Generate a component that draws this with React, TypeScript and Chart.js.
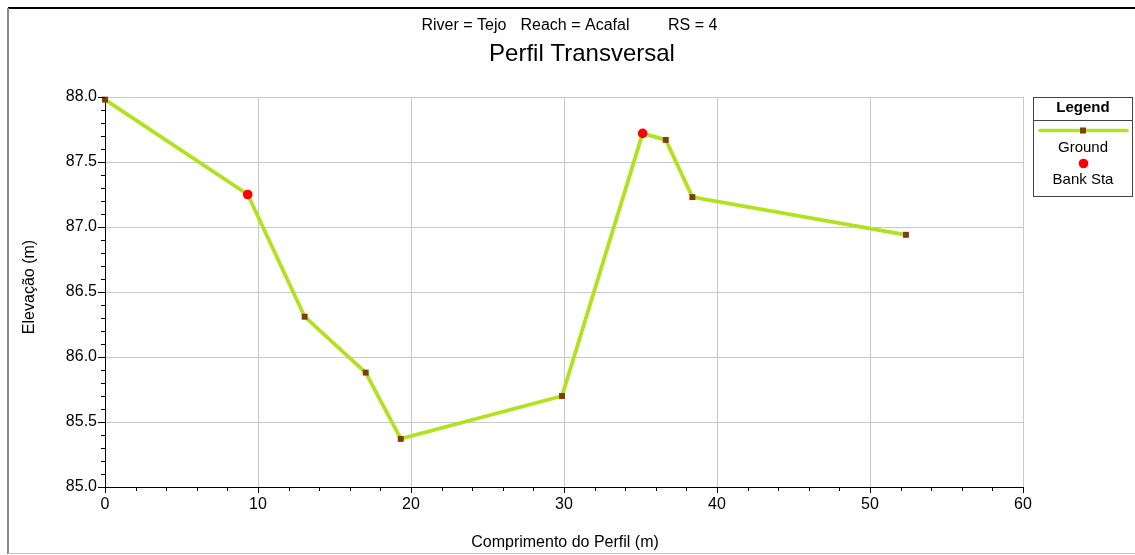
import React, { useEffect, useRef } from "react";
import { Chart, registerables } from "chart.js";

Chart.register(...registerables);

// ---- data ----
const stations = [0, 9.33, 13.05, 17.04, 19.33, 29.87, 35.14, 36.65, 38.39, 52.35];
const elevations = [87.98, 87.25, 86.31, 85.88, 85.37, 85.7, 87.72, 87.67, 87.23, 86.94];
const bankStations = [9.33, 35.14];
const bankElevations = [87.25, 87.72];

const xTicks = [0, 10, 20, 30, 40, 50, 60];
const yTicks = [85.0, 85.5, 86.0, 86.5, 87.0, 87.5, 88.0];

const titleText = "Perfil Transversal";
const subtitleParts = ["River = Tejo", "Reach = Acafal", "RS = 4"];
const xTitle = "Comprimento do Perfil (m)";
const yTitle = "Elevação (m)";
const legendTitle = "Legend";

const FONT = "'Liberation Sans', Arial, sans-serif";
const GREEN = "#b2e11e";
const BROWN = "#7f3f00";
const RED = "#ff0000";

const decorPlugin = {
  id: "decor",
  afterDraw(chart: any) {
    const ctx = chart.ctx as CanvasRenderingContext2D;
    const xs = chart.scales.x;
    const ys = chart.scales.y;
    const ca = chart.chartArea;
    ctx.save();

    // frame
    ctx.fillStyle = "#000";
    ctx.fillRect(8, 7, 1127, 2);
    ctx.fillStyle = "#8a8a8a";
    ctx.fillRect(7, 8, 2, 546);
    ctx.fillStyle = "#c4c4c4";
    ctx.fillRect(8, 553, 1127, 1);

    // custom ticks (major + minor), outward
    ctx.strokeStyle = "#000";
    ctx.lineWidth = 1;
    ctx.beginPath();
    const xmin = xs.min, xmax = xs.max;
    for (let v = xmin; v <= xmax + 1e-9; v += 2) {
      const px = Math.round(xs.getPixelForValue(v)) + 0.5;
      const major = Math.abs(v / 10 - Math.round(v / 10)) < 1e-6;
      ctx.moveTo(px, ca.bottom);
      ctx.lineTo(px, ca.bottom + (major ? 6 : 4));
    }
    const ymin = ys.min, ymax = ys.max;
    for (let i = 0; i <= Math.round((ymax - ymin) / 0.1); i++) {
      const v = ymin + i * 0.1;
      const py = Math.round(ys.getPixelForValue(v)) + 0.5;
      const major = i % 5 === 0;
      ctx.moveTo(ca.left, py);
      ctx.lineTo(ca.left - (major ? 7 : 4), py);
    }
    ctx.stroke();

    // titles
    ctx.fillStyle = "#000";
    ctx.textBaseline = "alphabetic";
    ctx.textAlign = "left";
    ctx.font = `16px ${FONT}`;
    const subX = [421.5, 520.5, 668];
    subtitleParts.forEach((t, i) => ctx.fillText(t, subX[i], 30));
    ctx.textAlign = "center";
    ctx.font = `24px ${FONT}`;
    ctx.fillText(titleText, 582, 61);

    ctx.font = `16px ${FONT}`;
    ctx.fillText(xTitle, 565, 547);

    ctx.save();
    ctx.translate(34, 287);
    ctx.rotate(-Math.PI / 2);
    ctx.fillText(yTitle, 0, 0);
    ctx.restore();

    // legend box
    const ground = chart.data.datasets.find((d: any) => d.label === "Ground");
    const bank = chart.data.datasets.find((d: any) => d.label === "Bank Sta");
    const lx = 1033, ly = 97, lw = 99, lh = 99;
    ctx.strokeStyle = "#444";
    ctx.lineWidth = 1;
    ctx.strokeRect(lx + 0.5, ly + 0.5, lw, lh);
    ctx.beginPath();
    ctx.moveTo(lx, 120.5);
    ctx.lineTo(lx + lw, 120.5);
    ctx.stroke();
    ctx.font = `bold 15px ${FONT}`;
    ctx.fillText(legendTitle, 1083, 112);
    // ground sample
    ctx.strokeStyle = ground.borderColor;
    ctx.lineWidth = 3.5;
    ctx.lineCap = "round";
    ctx.beginPath();
    ctx.moveTo(1040, 130.5);
    ctx.lineTo(1127, 130.5);
    ctx.stroke();
    ctx.fillStyle = ground.pointBackgroundColor;
    ctx.fillRect(1080, 127.5, 6, 6);
    ctx.fillStyle = "#000";
    ctx.font = `15px ${FONT}`;
    ctx.fillText(ground.label, 1083, 152);
    // bank sample
    ctx.fillStyle = bank.pointBackgroundColor;
    ctx.beginPath();
    ctx.arc(1083.5, 163.5, 4.8, 0, Math.PI * 2);
    ctx.fill();
    ctx.fillStyle = "#000";
    ctx.fillText(bank.label, 1083, 184);

    ctx.restore();
  },
};

export default function App() {
  const ref = useRef<HTMLCanvasElement>(null);
  useEffect(() => {
    if (!ref.current) return;
    const chart = new Chart(ref.current, {
      type: "scatter",
      data: {
        datasets: [
          {
            label: "Bank Sta",
            data: bankStations.map((x, i) => ({ x, y: bankElevations[i] })),
            showLine: false,
            pointStyle: "circle",
            pointRadius: 4.8,
            pointBackgroundColor: RED,
            pointBorderWidth: 0,
            backgroundColor: RED,
            order: 0,
            clip: false,
          } as any,
          {
            label: "Ground",
            data: stations.map((x, i) => ({ x, y: elevations[i] })),
            showLine: true,
            borderColor: GREEN,
            borderWidth: 3.8,
            pointStyle: "rect",
            pointRadius: 4.2,
            pointBackgroundColor: BROWN,
            pointBorderWidth: 0,
            backgroundColor: BROWN,
            order: 1,
            clip: false,
          } as any,
        ],
      },
      options: {
        responsive: false,
        animation: false,
        devicePixelRatio: 1,
        layout: { padding: { left: 0, top: 97, right: 112, bottom: 0 } },
        plugins: {
          legend: { display: false },
          title: { display: false },
          tooltip: { enabled: false },
        },
        events: [],
        scales: {
          x: {
            type: "linear",
            min: xTicks[0],
            max: xTicks[xTicks.length - 1],
            afterFit: (s: any) => {
              s.height = 68;
            },
            afterBuildTicks: (s: any) => {
              s.ticks = xTicks.map((v) => ({ value: v }));
            },
            grid: { color: "#c8c8c8", lineWidth: 1, drawTicks: false },
            border: { color: "#000", width: 1 },
            ticks: {
              padding: 8,
              color: "#000",
              font: { family: FONT, size: 16 },
              callback: (v: any) => String(v),
            },
          },
          y: {
            type: "linear",
            min: yTicks[0],
            max: yTicks[yTicks.length - 1],
            afterFit: (s: any) => {
              s.width = 105;
            },
            afterBuildTicks: (s: any) => {
              s.ticks = yTicks.map((v) => ({ value: v }));
            },
            grid: { color: "#c8c8c8", lineWidth: 1, drawTicks: false },
            border: { color: "#000", width: 1 },
            ticks: {
              padding: 8,
              color: "#000",
              font: { family: FONT, size: 16 },
              callback: (v: any) => Number(v).toFixed(1),
            },
          },
        },
      },
      plugins: [decorPlugin],
    });
    return () => chart.destroy();
  }, []);
  return (
    <div style={{ position: "fixed", left: 0, top: 0, width: 1135, height: 555, background: "#fff" }}>
      <canvas ref={ref} width={1135} height={555} style={{ display: "block" }} />
    </div>
  );
}
